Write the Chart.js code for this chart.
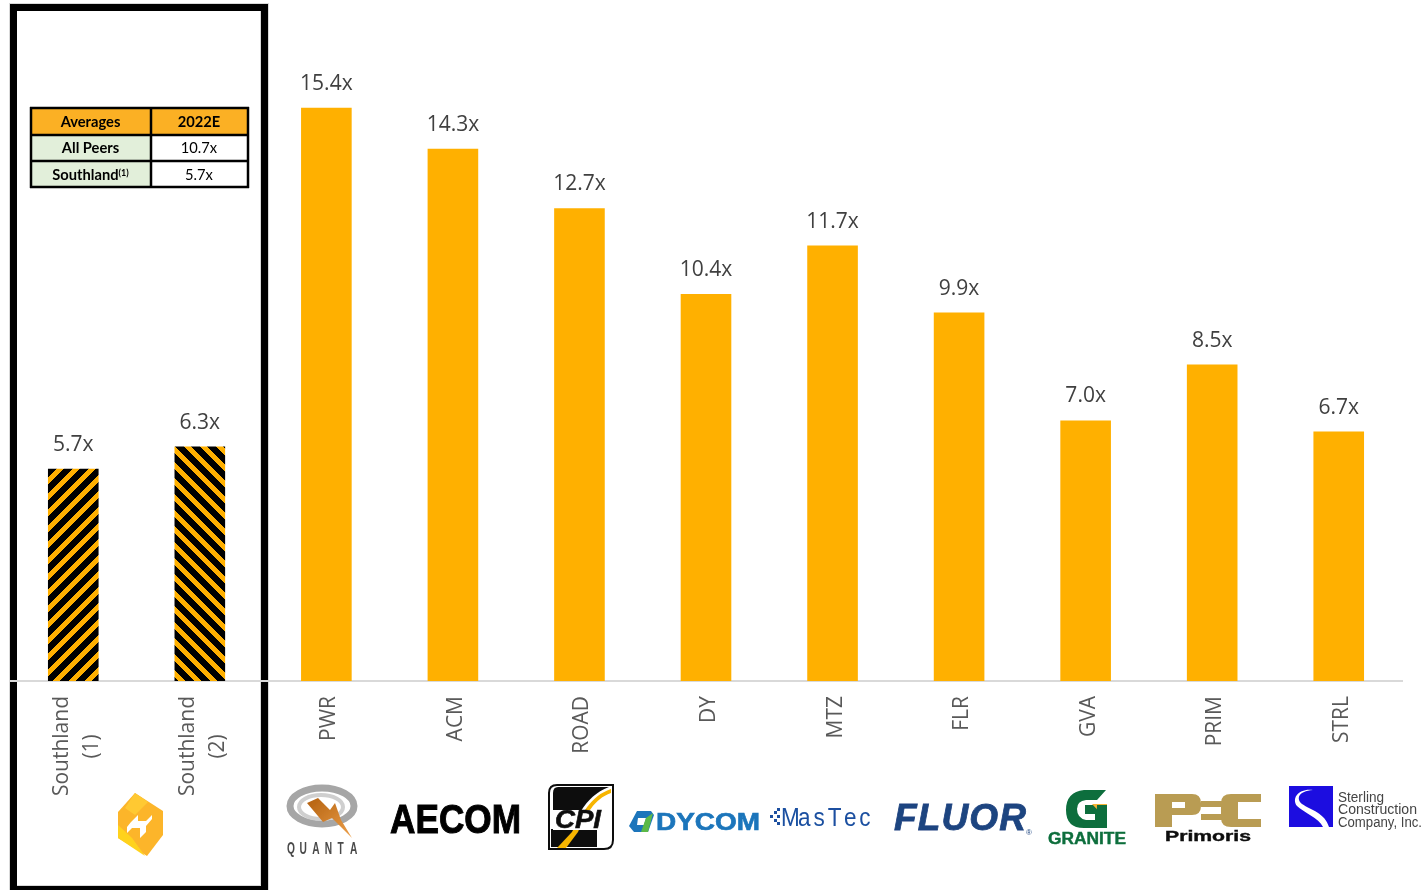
<!DOCTYPE html>
<html>
<head>
<meta charset="utf-8">
<style>
  html, body { margin: 0; padding: 0; background: #fff; overflow: hidden; }
  #stage { position: relative; width: 1424px; height: 890px; }
  #chart { position: absolute; left: 0; top: 0; }
  #marks { position: absolute; left: 0; top: 0; pointer-events: none; }
</style>
<script src="https://cdn.jsdelivr.net/npm/chart.js@4/dist/chart.umd.min.js"></script>
</head>
<body>
<div id="stage">
  <canvas id="chart" width="1424" height="890"></canvas>
  <svg id="marks" width="1424" height="890" viewBox="0 0 1424 890" xmlns="http://www.w3.org/2000/svg">
    <defs>
      <linearGradient id="bolt" x1="0" y1="0" x2="1" y2="1">
        <stop offset="0" stop-color="#b3600f"/><stop offset="1" stop-color="#eda04a"/>
      </linearGradient>
      <filter id="soft"><feGaussianBlur stdDeviation="0.45"/></filter>
    </defs>

    <!-- averages table -->
    <g id="averages"></g>

    <g filter="url(#soft)">
      <!-- Southland -->
      <path d="M135 793 L163 811 V835 L147 856 L118 838 V812 Z" fill="#fcb52b"/>
      <path d="M135 793 L148 802 L135 815 L125 808 Z" fill="#ffc933"/>
      <path d="M118 825 L132 838 L145 856 L118 838 Z" fill="#ffd21f"/>
      <path d="M131 822 L138 815 V821 L146 821 L152 815 V819 L146 826 V832 L140 838 V828 L132 828 L127 833 V827 Z" fill="#fff"/>

      <!-- Quanta -->
      <ellipse cx="322" cy="806" rx="32" ry="18" fill="none" stroke="#a6a6a6" stroke-width="7"/>
      <ellipse cx="321" cy="807" rx="22" ry="12" fill="none" stroke="#cfcfcf" stroke-width="4"/>
      <path d="M307 803 L318 798 L330 810 L335 803 L341 820 L352 838 L332 818 L323 822 Z" fill="url(#bolt)"/>
      <text transform="translate(287 854) scale(0.6 1)" x="0 21 42 63 84 105" y="0" font-family="'Liberation Sans'" font-size="17" font-weight="700" fill="#4a4a4a">QUANTA</text>

      <!-- AECOM -->
      <text x="390" y="833" font-family="'Liberation Sans'" font-size="41" font-weight="700" fill="#000" stroke="#000" stroke-width="1" textLength="131" lengthAdjust="spacingAndGlyphs">AECOM</text>

      <!-- CPI -->
      <path d="M557 785 H613 V840 Q613 849 604 849 H549 V793 Q549 785 557 785 Z" fill="#fff" stroke="#111" stroke-width="2"/>
      <path d="M558 787 H609 C596 792 588 800 581 811 L553 811 V793 Q553 787 558 787 Z" fill="#111"/>
      <path d="M551 829 H597 L597 847 H551 Z" fill="#111"/>
      <path d="M611 789 C590 796 582 815 572 832 L557 848 H566 L578 832 C586 815 594 799 611 793 Z" fill="#f7b500"/>
      <rect x="553" y="810" width="50" height="20" fill="#fff"/>
      <text x="555" y="828" font-family="'Liberation Sans'" font-size="25" font-weight="700" font-style="italic" fill="#111" stroke="#111" stroke-width="0.6" textLength="46" lengthAdjust="spacingAndGlyphs">CPI</text>

      <!-- Dycom -->
      <path d="M637 811 H651 L654 815 L648 832 H634 L629 826 Z" fill="#1b75bb"/>
      <path d="M638 818 H646 L644 825 H637 Z" fill="#fff"/>
      <path d="M646 818 L653 813 L648 832 L641 832 Z" fill="#5cb947"/>
      <text x="656" y="830" font-family="'Liberation Sans'" font-size="24" font-weight="700" fill="#1b75bb" stroke="#1b75bb" stroke-width="0.6" textLength="104" lengthAdjust="spacingAndGlyphs">DYCOM</text>

      <!-- MasTec -->
      <g fill="#1a4fa0">
        <rect x="770" y="815" width="3" height="3"/><rect x="774" y="811" width="3" height="3"/>
        <rect x="774" y="819" width="3" height="3"/><rect x="777" y="815" width="3" height="3"/>
        <rect x="777" y="808" width="3" height="3"/><rect x="777" y="822" width="3" height="3"/>
      </g>
      <text transform="translate(781 826) scale(0.9 1)" x="0 19 36 52 70 87" y="0" font-family="'Liberation Sans'" font-size="25" fill="#1a4fa0">MasTec</text>

      <!-- Fluor -->
      <text x="894" y="830" font-family="'Liberation Sans'" font-size="37" font-weight="700" font-style="italic" fill="#1f4480" stroke="#1f4480" stroke-width="0.8" textLength="132" lengthAdjust="spacing">FLUOR</text>
      <text x="1026" y="835" font-family="'Liberation Sans'" font-size="8" fill="#1f4480">®</text>

      <!-- Granite -->
      <path d="M1106 790 H1084 Q1066 792 1066 810 Q1066 828 1084 828 H1107 V805 H1085 V814 H1095 V820 H1086 Q1077 818 1077 809 Q1077 801 1086 800 H1097 Z" fill="#0a6e3c"/>
      <path d="M1092 804 H1107 V820 Z" fill="#f5b335"/>
      <path d="M1097 805 H1107 V828 H1096 Z" fill="#0a6e3c"/>
      <text x="1048" y="844" font-family="'Liberation Sans'" font-size="16" font-weight="700" fill="#0a6e3c" stroke="#0a6e3c" stroke-width="0.4" textLength="78" lengthAdjust="spacingAndGlyphs">GRANITE</text>

      <!-- Primoris -->
      <path d="M1155 794 H1192 Q1201 794 1201 803 V806 Q1201 815 1192 815 H1172 V827 H1155 Z M1172 802 V808 H1185 V802 Z" fill="#b99c52" fill-rule="evenodd"/>
      <rect x="1201" y="801" width="21" height="6" fill="#b99c52"/>
      <rect x="1201" y="814" width="22" height="6" fill="#b99c52"/>
      <path d="M1261 794 H1231 Q1221 794 1221 803 V818 Q1221 827 1231 827 H1261 V819 H1238 V802 H1261 Z" fill="#b99c52"/>
      <text x="1165" y="841" font-family="'Liberation Sans'" font-size="15" font-weight="700" fill="#111" stroke="#111" stroke-width="0.4" textLength="86" lengthAdjust="spacingAndGlyphs">Primoris</text>

      <!-- Sterling -->
      <rect x="1289" y="786" width="44" height="41" fill="#1a0de0"/>
      <path d="M1313 790 C1298 791 1296 799 1302 804 C1311 810 1325 813 1329 827 H1323 C1319 818 1303 812 1297 806 C1291 798 1299 788 1313 790 Z" fill="#fff"/>
      <g font-family="'Liberation Sans Narrow','Liberation Sans'" font-size="14" fill="#444">
        <text x="1338" y="802" textLength="46" lengthAdjust="spacingAndGlyphs">Sterling</text>
        <text x="1338" y="814" textLength="79" lengthAdjust="spacingAndGlyphs">Construction</text>
        <text x="1338" y="827" textLength="84" lengthAdjust="spacingAndGlyphs">Company, Inc.</text>
      </g>
    </g>
  </svg>
</div>
<script>
// Valuation multiples for Southland and its listed peers
const categories = [
  ["Southland", "(1)"], ["Southland", "(2)"],
  "PWR", "ACM", "ROAD", "DY", "MTZ", "FLR", "GVA", "PRIM", "STRL"
];
const multiples = [5.7, 6.3, 15.4, 14.3, 12.7, 10.4, 11.7, 9.9, 7.0, 8.5, 6.7];

const tableHeader = ["Averages", "2022E"];
const tableRowNames = ["All Peers", "Southland"];
const tableRowValues = ["10.7x", "5.7x"];

const ORANGE = "#FFB000";

// Diagonal stripe tile; dir +1 rises to the right, -1 falls to the right
function stripes(dir) {
  const period = 16, band = 7;
  const tile = document.createElement("canvas");
  tile.width = tile.height = period;
  const c = tile.getContext("2d");
  c.fillStyle = "#000";
  c.fillRect(0, 0, period, period);
  c.fillStyle = ORANGE;
  for (let y = 0; y < period; y++) {
    for (let x = 0; x < period; x++) {
      const k = dir > 0 ? x + y + 3 : x - y + 6 + period;
      if (k % period < band) c.fillRect(x, y, 1, 1);
    }
  }
  return tile;
}

const ctx = document.getElementById("chart").getContext("2d");
const barFills = multiples.map((_, i) =>
  i === 0 ? ctx.createPattern(stripes(1), "repeat")
  : i === 1 ? ctx.createPattern(stripes(-1), "repeat")
  : ORANGE);

// Black box around the Southland group, painted under the axis line
const groupFrame = {
  id: "groupFrame",
  beforeDraw(chart) {
    const c = chart.ctx;
    c.save();
    c.strokeStyle = "#D9D9D9";
    c.lineWidth = 1;
    c.strokeRect(9.5, 3.5, 259, 890);
    c.beginPath();
    c.moveTo(17, 885.5); c.lineTo(261, 885.5);
    c.moveTo(260.5, 11); c.lineTo(260.5, 885);
    c.stroke();
    c.fillStyle = "#000";
    c.fillRect(10, 4, 258, 7);
    c.fillRect(10, 4, 7, 886);
    c.fillRect(261, 4, 7, 886);
    c.fillRect(10, 886, 258, 4);
    c.restore();
  }
};

// Places rotated tick labels across the axis: single lines on the bar centre, two-line labels around it
const tickPlacement = {
  id: "tickPlacement",
  beforeDraw(chart) {
    chart.scales.x.getLabelItems().forEach(item => {
      if (item.placed) return;
      item.options.translation[0] += Array.isArray(item.label) ? -11.5 : 3;
      item.placed = true;
    });
  }
};

// "15.4x" style captions above every bar
const valueLabels = {
  id: "valueLabels",
  afterDatasetsDraw(chart) {
    const c = chart.ctx;
    c.save();
    c.font = "21px 'Open Sans'";
    c.fillStyle = "#404040";
    c.textAlign = "center";
    c.textBaseline = "alphabetic";
    chart.getDatasetMeta(0).data.forEach((bar, i) => {
      c.fillText(multiples[i].toFixed(1) + "x", bar.x, bar.y - 18);
    });
    c.restore();
  }
};

new Chart(ctx, {
  type: "bar",
  data: {
    labels: categories,
    datasets: [{
      data: multiples,
      backgroundColor: barFills,
      borderWidth: 0,
      categoryPercentage: 1,
      barPercentage: 0.4
    }]
  },
  options: {
    responsive: false,
    animation: false,
    layout: { padding: { left: 10, right: 22, top: 11, bottom: 0 } },
    plugins: { legend: { display: false }, tooltip: { enabled: false } },
    scales: {
      x: {
        offset: true,
        grid: { display: false },
        border: { display: true, color: "#D9D9D9", width: 2 },
        afterFit(scale) {
          scale.height = 209;
          scale.paddingLeft = 0;
          scale.paddingRight = 0;
        },
        ticks: {
          autoSkip: false,
          minRotation: 90,
          maxRotation: 90,
          padding: 7,
          color: "#595959",
          font: { family: "'Open Sans'", size: 21, lineHeight: 1.42 },
          // rotated labels are end-aligned, so the short second line is padded to sit centred
          callback(value) {
            const label = categories[value];
            return Array.isArray(label)
              ? [label[0], label[1] + "\u00A0".repeat(7)]
              : label;
          }
        }
      },
      y: { display: false, min: 0, max: 18 }
    }
  },
  plugins: [groupFrame, tickPlacement, valueLabels]
});

// Averages table drawn as real text on top of the canvas
(function buildTable() {
  const ns = "http://www.w3.org/2000/svg";
  const host = document.getElementById("averages");
  const put = (tag, attrs, text) => {
    const el = document.createElementNS(ns, tag);
    for (const k in attrs) el.setAttribute(k, attrs[k]);
    if (text) el.textContent = text;
    host.appendChild(el);
    return el;
  };
  const xs = [31, 151, 248], ys = [108, 135, 161, 187];
  const font = { "font-family": "Lato", "font-size": 14.7, "text-anchor": "middle", fill: "#000" };
  put("rect", { x: xs[0], y: ys[0], width: xs[2] - xs[0], height: ys[1] - ys[0], fill: "#FBB024" });
  put("rect", { x: xs[0], y: ys[1], width: xs[1] - xs[0], height: ys[3] - ys[1], fill: "#E2EFDA" });
  put("rect", { x: xs[1], y: ys[1], width: xs[2] - xs[1], height: ys[3] - ys[1], fill: "#fff" });
  put("text", { ...font, x: 90.5, y: 127, "font-weight": 700 }, tableHeader[0]);
  put("text", { ...font, x: 199, y: 127, "font-weight": 700 }, tableHeader[1]);
  put("text", { ...font, x: 90.5, y: 153, "font-weight": 700 }, tableRowNames[0]);
  put("text", { ...font, x: 199, y: 153 }, tableRowValues[0]);
  const named = put("text", { ...font, x: 90.5, y: 180, "font-weight": 700 }, tableRowNames[1]);
  const sup = document.createElementNS(ns, "tspan");
  sup.setAttribute("font-size", 9);
  sup.setAttribute("dy", -4);
  sup.textContent = "(1)";
  named.appendChild(sup);
  put("text", { ...font, x: 199, y: 180 }, tableRowValues[1]);
  const lines = { stroke: "#000", "stroke-width": 2.5 };
  ys.forEach(y => put("line", { ...lines, x1: xs[0] - 1, x2: xs[2] + 1, y1: y, y2: y }));
  xs.forEach(x => put("line", { ...lines, x1: x, x2: x, y1: ys[0] - 1, y2: ys[3] + 1 }));
})();
</script>
</body>
</html>
